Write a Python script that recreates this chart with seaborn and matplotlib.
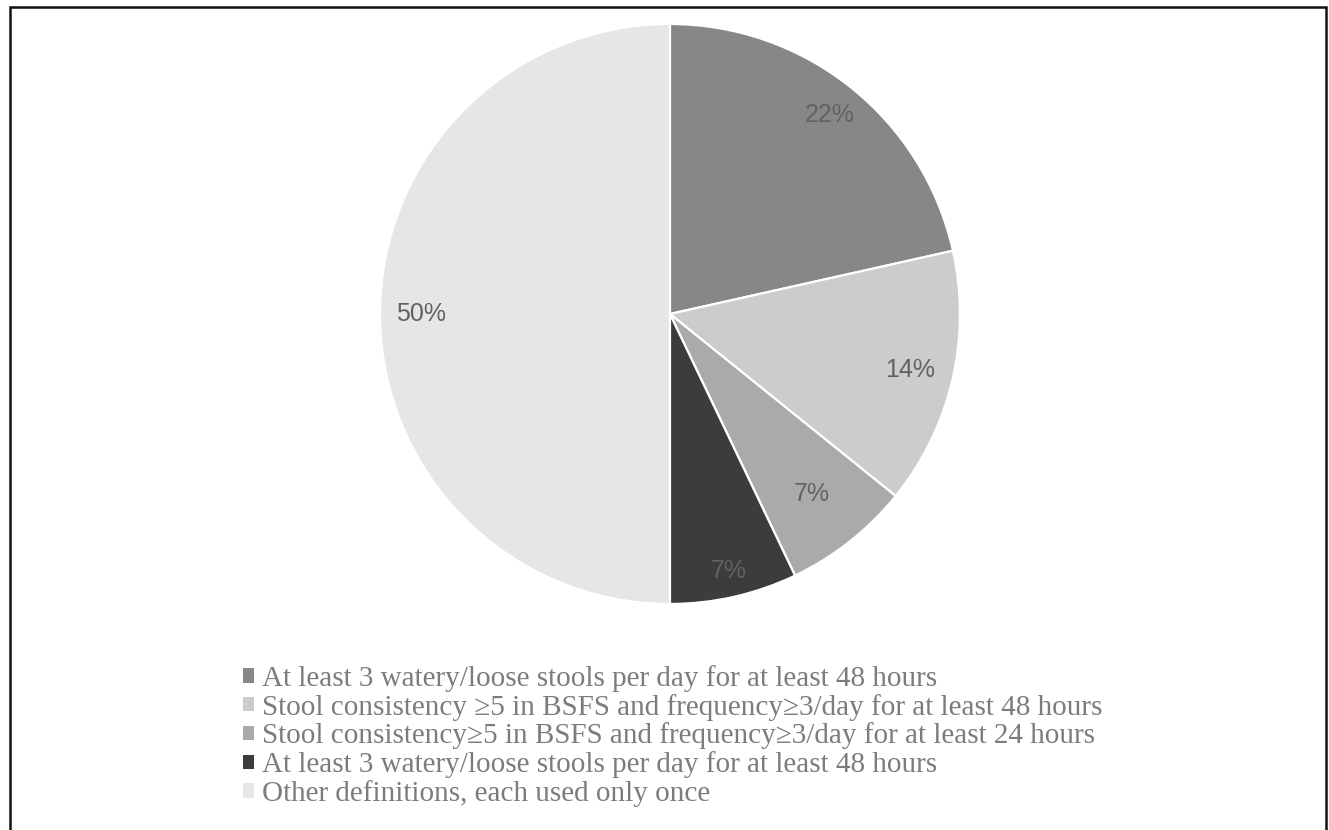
import numpy as np
import matplotlib
matplotlib.use("Agg")
import matplotlib.pyplot as plt
from matplotlib.patches import Patch, Rectangle
import seaborn as sns

definitions = [
    "At least 3 watery/loose stools per day for at least 48 hours",
    "Stool consistency \u22655 in BSFS and frequency\u22653/day for at least 48 hours",
    "Stool consistency\u22655 in BSFS and frequency\u22653/day for at least 24 hours",
    "At least 3 watery/loose stools per day for at least 48 hours",
    "Other definitions, each used only once",
]
shares = [21.5, 14.3, 7.1, 7.1, 50.0]
pct_labels = ["22%", "14%", "7%", "7%", "50%"]
colors = ["#878787", "#cccccc", "#aaaaaa", "#3c3c3c", "#e6e6e6"]
label_dist = [0.88, 0.85, 0.79, 0.91, 0.86]

sns.set_theme(style="white")
plt.rcParams['font.family'] = ['Liberation Sans', 'DejaVu Sans']

fig = plt.figure(figsize=(13.29, 8.30), dpi=100)
fig.patch.set_facecolor("white")

# pie axes, square, centred where the reference pie sits
ax = fig.add_axes([0.2859, 0.2723, 0.4364, 0.6988])
wedges, _ = ax.pie(shares, colors=colors, startangle=90, counterclock=False,
                   radius=1.0, wedgeprops=dict(edgecolor="white", linewidth=1.6))
ax.set_xlim(-1, 1)
ax.set_ylim(-1, 1)
ax.set_aspect("equal")
ax.axis("off")

for w, lab, d in zip(wedges, pct_labels, label_dist):
    mid = np.deg2rad((w.theta1 + w.theta2) / 2)
    ax.text(d * np.cos(mid), d * np.sin(mid), lab, ha="center", va="center",
            fontsize=18, color="#626262")

# legend
handles = [Patch(facecolor=c, edgecolor="none") for c in colors]
leg = fig.legend(handles, definitions, loc="upper left",
                 bbox_to_anchor=(243 / 1329, 1 - 665 / 830),
                 frameon=False, borderpad=0, borderaxespad=0,
                 handlelength=0.38, handleheight=0.38, handletextpad=0.28,
                 labelspacing=0.06,
                 prop=dict(family=['Liberation Serif', 'DejaVu Serif'], size=21))
for t in leg.get_texts():
    t.set_color("#7c7c7c")

# outer frame (open at the bottom)
fig.patches.append(Rectangle((10 / 1329, -0.05), 1316 / 1329, 1.05 - 7 / 830,
                             transform=fig.transFigure, fill=False,
                             edgecolor="#111111", linewidth=1.8))

fig.savefig("out.png", dpi=100, facecolor="white")
